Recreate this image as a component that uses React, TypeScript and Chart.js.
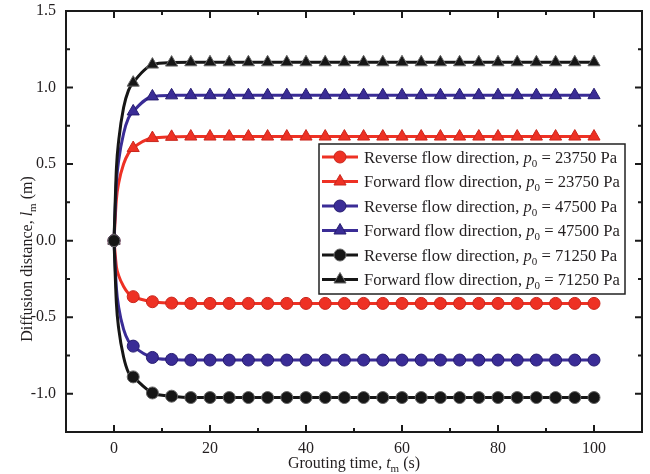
import React, { useEffect, useRef } from 'react';
import { Chart, registerables } from 'chart.js';

Chart.register(...registerables);

const FONT = '"Liberation Serif", "Times New Roman", serif';
const TEXT = '#231f20';

// grouting time (s); markers are drawn at multiples of 4 s
const time = [0, 0.5, 1, 2, 3, 4, 8, 12, 16, 20, 24, 28, 32, 36, 40, 44, 48, 52, 56, 60, 64, 68, 72, 76, 80, 84, 88, 92, 96, 100];

const redReverse = [0, -0.17, -0.23, -0.3, -0.345, -0.366, -0.399, -0.408, -0.41, -0.41, -0.41, -0.41, -0.41, -0.41, -0.41, -0.41, -0.41, -0.41, -0.41, -0.41, -0.41, -0.41, -0.41, -0.41, -0.41, -0.41, -0.41, -0.41, -0.41, -0.41];
const redForward = [0, 0.27, 0.38, 0.5, 0.57, 0.605, 0.67, 0.678, 0.68, 0.68, 0.68, 0.68, 0.68, 0.68, 0.68, 0.68, 0.68, 0.68, 0.68, 0.68, 0.68, 0.68, 0.68, 0.68, 0.68, 0.68, 0.68, 0.68, 0.68, 0.68];
const blueReverse = [0, -0.31, -0.44, -0.58, -0.655, -0.689, -0.763, -0.776, -0.78, -0.78, -0.78, -0.78, -0.78, -0.78, -0.78, -0.78, -0.78, -0.78, -0.78, -0.78, -0.78, -0.78, -0.78, -0.78, -0.78, -0.78, -0.78, -0.78, -0.78, -0.78];
const blueForward = [0, 0.38, 0.53, 0.7, 0.8, 0.844, 0.942, 0.949, 0.95, 0.95, 0.95, 0.95, 0.95, 0.95, 0.95, 0.95, 0.95, 0.95, 0.95, 0.95, 0.95, 0.95, 0.95, 0.95, 0.95, 0.95, 0.95, 0.95, 0.95, 0.95];
const blackReverse = [0, -0.41, -0.58, -0.76, -0.86, -0.89, -0.995, -1.016, -1.025, -1.025, -1.025, -1.025, -1.025, -1.025, -1.025, -1.025, -1.025, -1.025, -1.025, -1.025, -1.025, -1.025, -1.025, -1.025, -1.025, -1.025, -1.025, -1.025, -1.025, -1.025];
const blackForward = [0, 0.47, 0.66, 0.87, 0.98, 1.032, 1.15, 1.163, 1.165, 1.165, 1.165, 1.165, 1.165, 1.165, 1.165, 1.165, 1.165, 1.165, 1.165, 1.165, 1.165, 1.165, 1.165, 1.165, 1.165, 1.165, 1.165, 1.165, 1.165, 1.165];

const seriesNames = [
  'Reverse flow direction',
  'Forward flow direction',
  'Reverse flow direction',
  'Forward flow direction',
  'Reverse flow direction',
  'Forward flow direction',
];
const pressures = ['23750', '23750', '47500', '47500', '71250', '71250'];

const xLabeled = [0, 20, 40, 60, 80, 100];
const yLabeled = [-1.0, -0.5, 0.0, 0.5, 1.0, 1.5];

const RED = '#ee3124';
const BLUE = '#3a2c96';
const BLACK = '#161616';

type Part = { text: string; italic?: boolean; sub?: boolean };

function drawRich(ctx: CanvasRenderingContext2D, parts: Part[], x: number, y: number, size: number, align: 'left' | 'center') {
  const fontOf = (p: Part) => `${p.italic ? 'italic ' : ''}${p.sub ? Math.round(size * 0.68) : size}px ${FONT}`;
  let total = 0;
  for (const p of parts) {
    ctx.font = fontOf(p);
    total += ctx.measureText(p.text).width;
  }
  let cx = align === 'center' ? x - total / 2 : x;
  ctx.textBaseline = 'alphabetic';
  ctx.textAlign = 'left';
  ctx.fillStyle = TEXT;
  for (const p of parts) {
    ctx.font = fontOf(p);
    ctx.fillText(p.text, cx, y + (p.sub ? size * 0.27 : 0));
    cx += ctx.measureText(p.text).width;
  }
}

function drawMarker(ctx: CanvasRenderingContext2D, style: string, x: number, y: number, fill: string, border: string) {
  ctx.beginPath();
  if (style === 'circle') {
    ctx.arc(x, y, 6, 0, Math.PI * 2);
  } else {
    const r = 7;
    ctx.moveTo(x, y - r);
    ctx.lineTo(x + r * Math.sin((2 * Math.PI) / 3), y - r * Math.cos((2 * Math.PI) / 3));
    ctx.lineTo(x - r * Math.sin((2 * Math.PI) / 3), y - r * Math.cos((2 * Math.PI) / 3));
    ctx.closePath();
  }
  ctx.fillStyle = fill;
  ctx.fill();
  ctx.strokeStyle = border;
  ctx.lineWidth = 1;
  ctx.stroke();
}

const frameAndLegend = {
  id: 'frameAndLegend',
  afterDatasetsDraw(chart: any) {
    const ctx: CanvasRenderingContext2D = chart.ctx;
    const { left, right, top, bottom } = chart.chartArea;
    const xs = chart.scales.x;
    const ys = chart.scales.y;
    ctx.save();
    // frame
    ctx.strokeStyle = '#1a1a1a';
    ctx.lineWidth = 2;
    ctx.strokeRect(left, top, right - left, bottom - top);
    // inward ticks
    ctx.lineWidth = 2;
    for (const t of xs.ticks) {
      const px = xs.getPixelForValue(t.value);
      if (px <= left + 1 || px >= right - 1) continue;
      const len = Math.abs(t.value % 20) < 1e-9 ? 7 : 4;
      ctx.beginPath();
      ctx.moveTo(px, bottom);
      ctx.lineTo(px, bottom - len);
      ctx.moveTo(px, top);
      ctx.lineTo(px, top + len);
      ctx.stroke();
    }
    for (const t of ys.ticks) {
      const py = ys.getPixelForValue(t.value);
      if (py <= top + 1 || py >= bottom - 1) continue;
      const major = Math.abs(Math.round(t.value * 2) - t.value * 2) < 1e-6;
      const len = major ? 7 : 4;
      ctx.beginPath();
      ctx.moveTo(left, py);
      ctx.lineTo(left + len, py);
      ctx.moveTo(right, py);
      ctx.lineTo(right - len, py);
      ctx.stroke();
    }
    // legend
    const lx = 319, ly = 144, lw = 306, lh = 150;
    ctx.fillStyle = '#ffffff';
    ctx.fillRect(lx, ly, lw, lh);
    ctx.strokeStyle = '#222';
    ctx.lineWidth = 1.5;
    ctx.strokeRect(lx, ly, lw, lh);
    const ds = chart.data.datasets;
    for (let i = 0; i < ds.length; i++) {
      const d = ds[i];
      const ry = 157 + i * 24.5;
      ctx.strokeStyle = d.borderColor;
      ctx.lineWidth = 3;
      ctx.beginPath();
      ctx.moveTo(322, ry);
      ctx.lineTo(358, ry);
      ctx.stroke();
      drawMarker(ctx, d.pointStyle, 340, ry, d.pointBackgroundColor, d.pointBorderColor);
      drawRich(
        ctx,
        [
          { text: seriesNames[i] + ', ' },
          { text: 'p', italic: true },
          { text: '0', sub: true },
          { text: ' = ' + pressures[i] + ' Pa' },
        ],
        364,
        ry + 5.5,
        16.6,
        'left'
      );
    }
    // axis titles
    drawRich(
      ctx,
      [{ text: 'Grouting time, ' }, { text: 't', italic: true }, { text: 'm', sub: true }, { text: ' (s)' }],
      (left + right) / 2,
      468,
      16,
      'center'
    );
    ctx.translate(32, 259);
    ctx.rotate(-Math.PI / 2);
    drawRich(
      ctx,
      [{ text: 'Diffusion distance, ' }, { text: 'l', italic: true }, { text: 'm', sub: true }, { text: ' (m)' }],
      0,
      0,
      16,
      'center'
    );
    ctx.restore();
  },
};

function makeDataset(label: string, values: number[], color: string, border: string, style: string, order: number) {
  const r = style === 'triangle' ? 7 : 6;
  return {
    label,
    data: time.map((t, i) => ({ x: t, y: values[i] })),
    borderColor: color,
    backgroundColor: color,
    borderWidth: 3,
    pointStyle: style,
    pointRadius: (c: any) => (time[c.dataIndex] % 4 === 0 ? r : 0),
    pointHoverRadius: (c: any) => (time[c.dataIndex] % 4 === 0 ? r : 0),
    pointBackgroundColor: color,
    pointBorderColor: border,
    pointBorderWidth: 1,
    cubicInterpolationMode: 'monotone' as const,
    order,
  };
}

export default function App() {
  const ref = useRef<HTMLCanvasElement | null>(null);
  useEffect(() => {
    document.body.style.margin = '0';
    const canvas = ref.current;
    if (!canvas) return;
    const chart = new Chart(canvas, {
      type: 'line',
      data: {
        datasets: [
          makeDataset('RR1', redReverse, RED, '#c9271d', 'circle', 4),
          makeDataset('RF1', redForward, RED, '#c9271d', 'triangle', 5),
          makeDataset('BR2', blueReverse, BLUE, '#261c70', 'circle', 2),
          makeDataset('BF2', blueForward, BLUE, '#261c70', 'triangle', 3),
          makeDataset('KR3', blackReverse, BLACK, '#666666', 'circle', 0),
          makeDataset('KF3', blackForward, BLACK, '#666666', 'triangle', 1),
        ] as any,
      },
      options: {
        responsive: false,
        animation: false,
        events: [],
        layout: { padding: { left: 0, top: 11, right: 8, bottom: 0 } },
        plugins: { legend: { display: false }, tooltip: { enabled: false } },
        scales: {
          x: {
            type: 'linear',
            min: -10,
            max: 110,
            grid: { display: false, drawTicks: false },
            border: { display: false },
            ticks: {
              stepSize: 10,
              padding: 7,
              color: TEXT,
              font: { family: FONT, size: 16 },
              maxRotation: 0,
              autoSkip: false,
              callback: (v: any) => (xLabeled.includes(Number(v)) ? String(v) : ''),
            },
            afterFit: (s: any) => {
              s.height = 42;
              s.paddingLeft = 0;
              s.paddingRight = 0;
            },
          },
          y: {
            type: 'linear',
            min: -1.25,
            max: 1.5,
            grid: { display: false, drawTicks: false },
            border: { display: false },
            ticks: {
              stepSize: 0.25,
              padding: 10,
              color: TEXT,
              font: { family: FONT, size: 16 },
              autoSkip: false,
              callback: (v: any) => {
                const n = Number(v);
                return yLabeled.some((y) => Math.abs(y - n) < 1e-9) ? n.toFixed(1) : '';
              },
            },
            afterFit: (s: any) => {
              s.width = 66;
              s.paddingTop = 0;
              s.paddingBottom = 0;
            },
          },
        },
      },
      plugins: [frameAndLegend],
    });
    return () => chart.destroy();
  }, []);
  return <canvas ref={ref} width={650} height={474} style={{ display: 'block' }} />;
}
